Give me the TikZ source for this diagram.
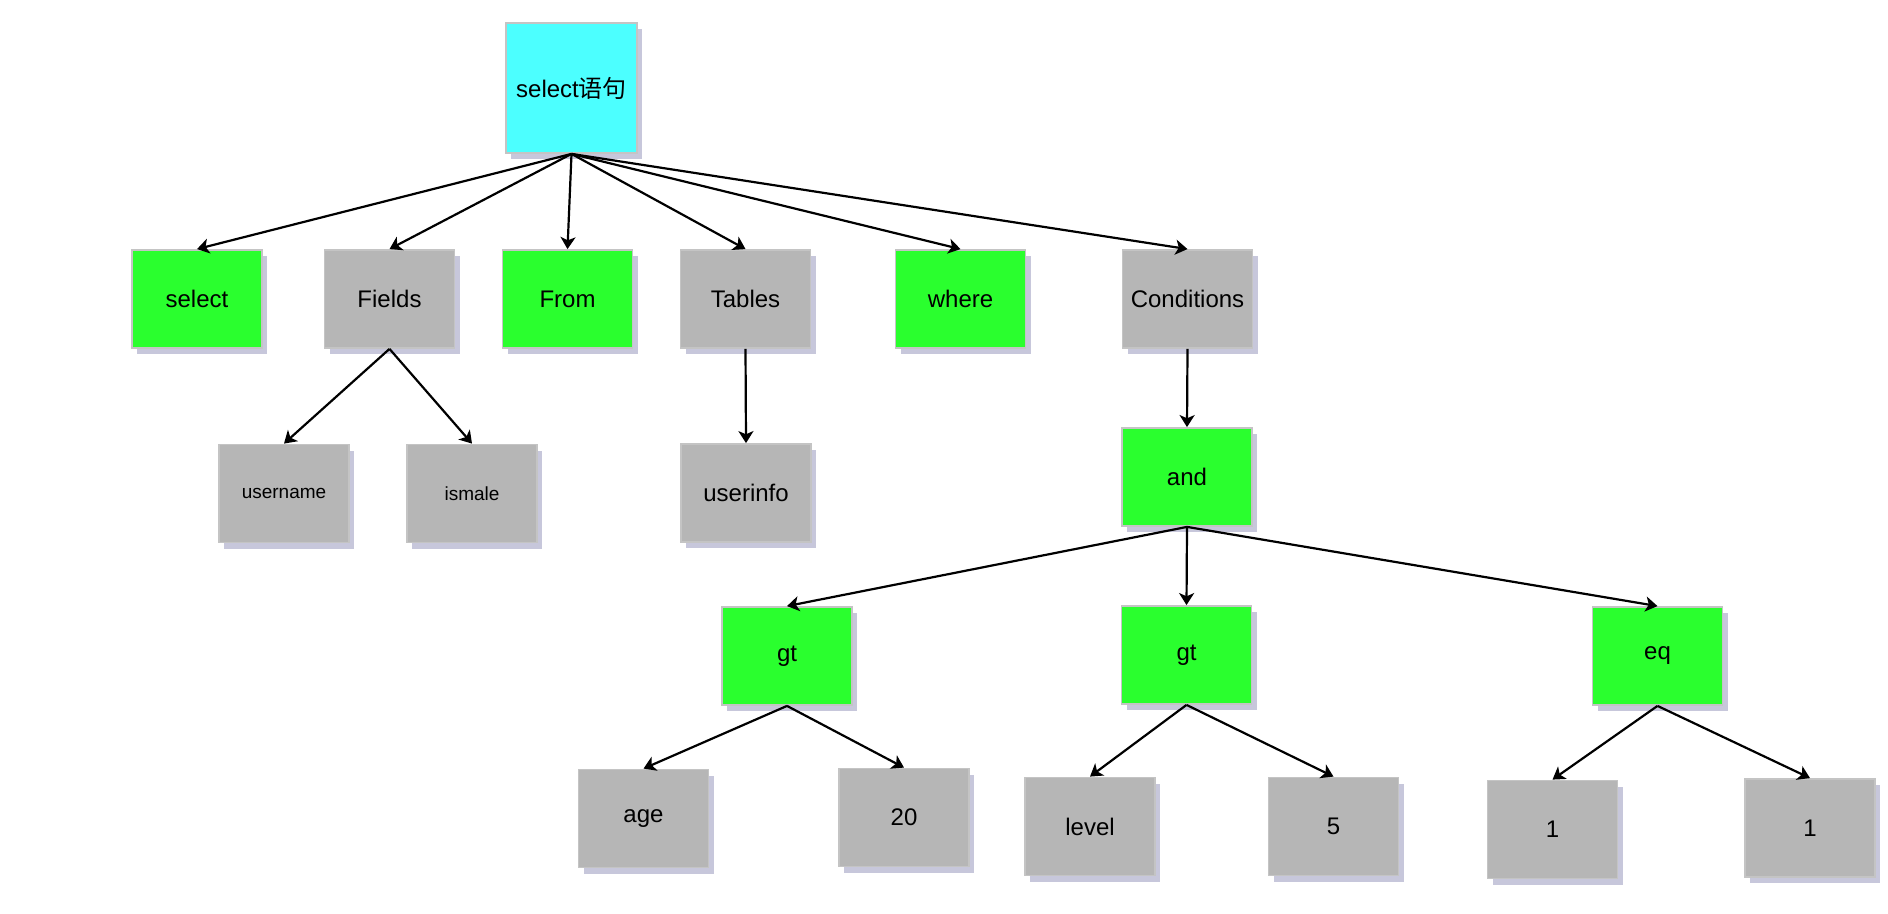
\documentclass[tikz,border=0pt]{standalone}
\usepackage{fontspec}
\setmainfont{Liberation Sans}
\newfontfamily\cjk{Noto Sans CJK SC}
\usetikzlibrary{arrows.meta,shadows}
\definecolor{opgreen}{HTML}{2AFF2E}
\definecolor{rootcyan}{HTML}{4CFFFF}
\definecolor{termgray}{HTML}{B6B6B6}
\definecolor{boxline}{HTML}{C4C4C4}
\definecolor{shadowblue}{HTML}{9090B8}
\begin{document}
\begin{tikzpicture}[
	x=0.5pt, y=-0.5pt,
	basebox/.style={rectangle,draw=boxline,line width=0.9pt,minimum width=65pt,minimum height=49pt,
		inner sep=1pt,font=\fontsize{12}{14}\selectfont,
		drop shadow={shadow xshift=2.5pt,shadow yshift=-3pt,fill=shadowblue,opacity=0.5}},
	rootbox/.style={basebox,fill=rootcyan,minimum width=65.5pt,minimum height=65pt},
	opbox/.style={basebox,fill=opgreen},
	termbox/.style={basebox,fill=termgray},
	smalltext/.style={font=\fontsize{9.5}{11}\selectfont},
	arrowline/.style={-{Stealth[length=6pt,width=7.5pt,inset=1.6pt]},line width=1.1pt},
	]
\useasboundingbox (0,0) rectangle (1888,914);
\node [rootbox] (root) at (571.5,88) {select{\cjk 语句}};
\node [opbox] (kwselect) at (197,299) {select};
\node [termbox] (fields) at (389.5,299) {Fields};
\node [opbox] (kwfrom) at (567.5,299) {From};
\node [termbox] (tables) at (745.5,299) {Tables};
\node [opbox] (kwwhere) at (960.5,299) {where};
\node [termbox] (conds) at (1187.5,299) {Conditions};
\node [termbox,smalltext] (username) at (284,493.5) {username};
\node [termbox,smalltext] (ismale) at (472,493.5) {ismale};
\node [termbox] (userinfo) at (746,493) {userinfo};
\node [opbox] (opand) at (1187,477) {and};
\node [opbox] (gtage) at (787,656) {gt};
\node [opbox] (gtlevel) at (1186.5,655) {gt};
\node [opbox] (opeq) at (1657.5,656) {eq};
\node [termbox] (age) at (643.5,818.5) {age};
\node [termbox] (twenty) at (904,817.5) {20};
\node [termbox] (level) at (1090,826.5) {level};
\node [termbox] (five) at (1333.5,826.5) {5};
\node [termbox] (onea) at (1552.5,829.5) {1};
\node [termbox] (oneb) at (1810,828) {1};
\draw [arrowline] (root.south) -- (kwselect.north);
\draw [arrowline] (root.south) -- (fields.north);
\draw [arrowline] (root.south) -- (kwfrom.north);
\draw [arrowline] (root.south) -- (tables.north);
\draw [arrowline] (root.south) -- (kwwhere.north);
\draw [arrowline] (root.south) -- (conds.north);
\draw [arrowline] (fields.south) -- (username.north);
\draw [arrowline] (fields.south) -- (ismale.north);
\draw [arrowline] (tables.south) -- (userinfo.north);
\draw [arrowline] (conds.south) -- (opand.north);
\draw [arrowline] (opand.south) -- (gtage.north);
\draw [arrowline] (opand.south) -- (gtlevel.north);
\draw [arrowline] (opand.south) -- (opeq.north);
\draw [arrowline] (gtage.south) -- (age.north);
\draw [arrowline] (gtage.south) -- (twenty.north);
\draw [arrowline] (gtlevel.south) -- (level.north);
\draw [arrowline] (gtlevel.south) -- (five.north);
\draw [arrowline] (opeq.south) -- (onea.north);
\draw [arrowline] (opeq.south) -- (oneb.north);
\end{tikzpicture}
\end{document}
